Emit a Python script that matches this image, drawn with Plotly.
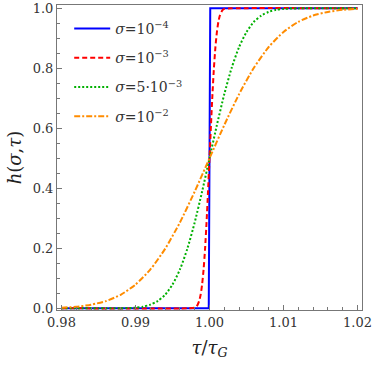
import plotly.graph_objects as go

# --- data (tau/tau_G, h) ---
tau_s4 = [0.980, 0.9999, 1.0000, 1.0001, 1.020]
h_s4 = [0.0, 0.0, 0.5, 1.0, 1.0]

tau_s3 = [0.980, 0.9970, 0.9980, 0.9982, 0.9984, 0.9986, 0.9988, 0.9990, 0.9992,
          0.9994, 0.9996, 0.9998, 1.0000, 1.0002, 1.0004, 1.0006, 1.0008, 1.0010,
          1.0012, 1.0014, 1.0016, 1.0018, 1.0020, 1.0030, 1.020]
h_s3 = [0.0, 0.0, 0.002, 0.005, 0.012, 0.024, 0.045, 0.079, 0.129,
        0.198, 0.286, 0.389, 0.500, 0.611, 0.714, 0.802, 0.871, 0.921,
        0.955, 0.976, 0.988, 0.995, 0.998, 1.0, 1.0]

tau_s53 = [0.980, 0.985, 0.988, 0.990, 0.991, 0.992, 0.993, 0.994, 0.995, 0.996,
           0.997, 0.998, 0.999, 1.000, 1.001, 1.002, 1.003, 1.004, 1.005, 1.006,
           1.007, 1.008, 1.009, 1.010, 1.012, 1.015, 1.020]
h_s53 = [0.0, 0.0, 0.0003, 0.002, 0.005, 0.012, 0.024, 0.045, 0.079, 0.129,
         0.198, 0.286, 0.389, 0.500, 0.611, 0.714, 0.802, 0.871, 0.921, 0.955,
         0.976, 0.988, 0.995, 0.998, 0.9997, 1.0, 1.0]

tau_s2 = [0.980, 0.982, 0.984, 0.986, 0.988, 0.990, 0.992, 0.994, 0.996, 0.998,
          1.000, 1.002, 1.004, 1.006, 1.008, 1.010, 1.012, 1.014, 1.016, 1.018, 1.020]
h_s2 = [0.002, 0.005, 0.012, 0.024, 0.045, 0.079, 0.129, 0.198, 0.286, 0.389,
        0.500, 0.611, 0.714, 0.802, 0.871, 0.921, 0.955, 0.976, 0.988, 0.995, 0.998]

x_ticks = [0.98, 0.99, 1.00, 1.01, 1.02]
y_ticks = [0.0, 0.2, 0.4, 0.6, 0.8, 1.0]

SERIF = "DejaVu Serif"
FRAME = "#777777"

series = [
    (tau_s4, h_s4, "<i>σ</i>=10<sup>−4</sup>", "#0000FF", "solid", False),
    (tau_s3, h_s3, "<i>σ</i>=10<sup>−3</sup>", "#FF0000", "5px,3px", True),
    (tau_s53, h_s53, "<i>σ</i>=5·10<sup>−3</sup>", "#00B000", "2px,2px", True),
    (tau_s2, h_s2, "<i>σ</i>=10<sup>−2</sup>", "#FF8C00", "6px,2px,2px,2px", True),
]

fig = go.Figure()
for i, (xs, ys, name, col, dash, smooth) in enumerate(series):
    fig.add_trace(go.Scatter(
        x=xs, y=ys, mode="lines", name=name, legendgroup=f"g{i}",
        line=dict(color=col, width=2, dash=dash,
                  shape="spline" if smooth else "linear", smoothing=0.6),
    ))

fig.update_layout(
    width=374, height=365,
    margin=dict(l=57, r=12, t=5, b=55),
    paper_bgcolor="white", plot_bgcolor="white",
    font=dict(family=SERIF, size=13, color="#333333"),
    legend=dict(x=0.04, y=0.974, xanchor="left", yanchor="top",
                bgcolor="rgba(0,0,0,0)", font=dict(family=SERIF, size=14, color="#333333"),
                tracegroupgap=8, itemwidth=36),
)
fig.update_xaxes(
    range=[0.9794, 1.0206], tickvals=x_ticks, tickformat=".2f", automargin=False,
    showline=True, linecolor=FRAME, linewidth=1, mirror=True,
    ticks="inside", ticklen=5, tickcolor=FRAME, showgrid=False, zeroline=False,
    minor=dict(dtick=0.002, tick0=0.98, ticks="inside", ticklen=3, tickcolor=FRAME),
    title=dict(text="<i>τ</i>/<i>τ</i><sub><i>G</i></sub>", font=dict(family=SERIF, size=18, color="#222222"),
               standoff=12),
)
fig.update_yaxes(
    range=[-0.0057, 1.011], tickvals=y_ticks, tickformat=".1f", automargin=False,
    showline=True, linecolor=FRAME, linewidth=1, mirror=True,
    ticks="inside", ticklen=5, tickcolor=FRAME, showgrid=False, zeroline=False,
    minor=dict(dtick=0.05, tick0=0, ticks="inside", ticklen=3, tickcolor=FRAME),
    title=dict(text="<i>h</i>(<i>σ</i>,<i>τ</i>)", font=dict(family=SERIF, size=18, color="#222222"),
               standoff=6),
)

# page body has an 8px default margin; drop it so the figure sits at (0, 0)
fig.write_html("out.html", config={"displayModeBar": False},
               post_script="document.body.style.margin='0';")
